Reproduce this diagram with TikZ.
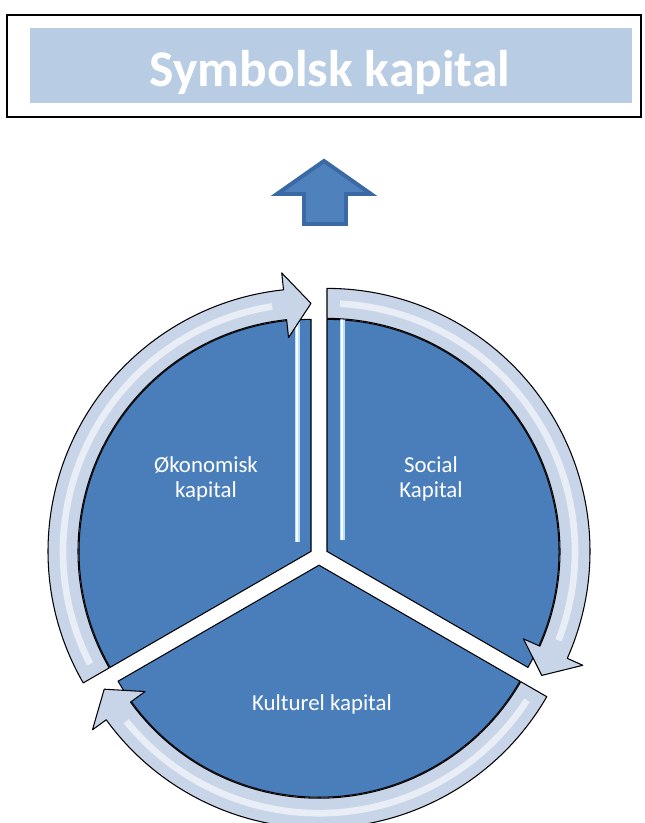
\documentclass[tikz,border=0pt]{standalone}
\usepackage{fontspec}
\setmainfont{Carlito}

\definecolor{secblue}{HTML}{4A7EBB}
\definecolor{ringblue}{HTML}{C8D5E9}
\definecolor{titleblue}{HTML}{B8CCE4}
\definecolor{arrowblue}{HTML}{4F81BD}
\definecolor{arrowedge}{HTML}{3B69A6}
\definecolor{glowblue}{HTML}{B9E0FF}

\tikzset{
  sector/.style={fill=secblue, draw=black, line width=0.9pt},
  ring/.style={fill=ringblue, draw=black, line width=0.9pt, line join=round},
  shine/.style={draw=white, line width=2mm, opacity=0.6},
  glint/.style={draw=white, line width=0.5mm, preaction={draw=glowblue, line width=1.5mm}},
  sectext/.style={text=white, font=\fontsize{19.5}{22}\selectfont, align=center},
  titletext/.style={font=\fontsize{44}{48}\selectfont\bfseries},
}

\begin{document}
\begin{tikzpicture}[x=0.3mm, y=0.3mm]

\useasboundingbox (0,0) rectangle (645,823);

% title box
\draw[line width=1.8pt] (7,808) rectangle (641,706);
\fill[titleblue] (30,795) rectangle (632,720);
\node[titletext, text=white] (title) at (330,751) {Symbolsk kapital};

% up arrow
\filldraw[fill=arrowblue, draw=arrowedge, line width=3.4pt, line join=miter]
  (324,662) -- (371,629) -- (346,629) -- (346,599) -- (304,599) -- (304,629) -- (277,629) -- cycle;

% sectors
\foreach \cx/\cy/\a/\b in {311/271.6/90/210, 327/271.6/-30/90, 319/257.8/210/330}
  {\filldraw[sector] (\cx,\cy) -- ++(\a:232) arc[start angle=\a, end angle=\b, radius=232] -- cycle;}

\draw[glint] (297,523) -- (297,281);
\draw[glint] (342,523) -- (342,283);

% ring arrows
\foreach \cx/\cy/\s/\t [evaluate=\t as \b using \t+6] in {311/271.6/210/90, 327/271.6/90/-30, 319/257.8/330/210}
{
  \begin{scope}[shift={(\cx,\cy)}]
    \filldraw[ring] (\s:263) arc[start angle=\s, end angle=\b, radius=263]
      -- (\b:280) -- (\t:248) -- (\b:215) -- (\b:233)
      arc[start angle=\b, end angle=\s, radius=233] -- cycle;
    \draw[shine] (\s-3:248) arc[start angle=\s-3, end angle=\b+3, radius=248];
  \end{scope}
}

\node[sectext] (oeko) at (206,344) {Økonomisk\\kapital};
\node[sectext] (social) at (431,344) {Social\\Kapital};
\node[sectext] (kultur) at (322,119) {Kulturel kapital};

\end{tikzpicture}
\end{document}
